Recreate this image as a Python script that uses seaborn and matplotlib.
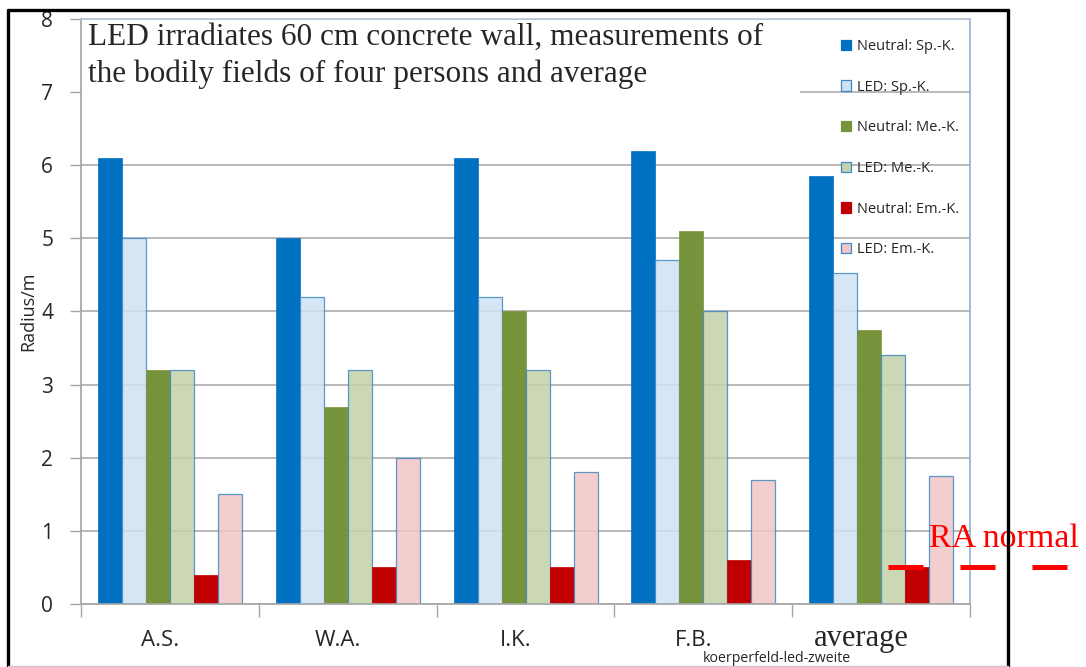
import matplotlib
matplotlib.use("Agg")
import matplotlib.pyplot as plt
import matplotlib.patches as mpatches
import matplotlib.lines as mlines
import matplotlib.transforms as mtrans
import pandas as pd
import seaborn as sns

# Data
persons = ["A.S.", "W.A.", "I.K.", "F.B.", "average"]
series = ["Neutral: Sp.-K.", "LED: Sp.-K.", "Neutral: Me.-K.",
          "LED: Me.-K.", "Neutral: Em.-K.", "LED: Em.-K."]
neutral_sp = [6.1, 5.0, 6.1, 6.2, 5.85]
led_sp = [5.0, 4.2, 4.2, 4.7, 4.52]
neutral_me = [3.2, 2.7, 4.0, 5.1, 3.75]
led_me = [3.2, 3.2, 3.2, 4.0, 3.4]
neutral_em = [0.4, 0.5, 0.5, 0.6, 0.5]
led_em = [1.5, 2.0, 1.8, 1.7, 1.75]
ra_normal = 0.5

title_lines = ["LED irradiates 60 cm concrete wall, measurements of",
               "the bodily fields of four persons and average"]

colors = ["#0070C0", "#CFE2F3", "#77933C", "#C4D1A9", "#C00000", "#F0C6C6"]
light = {1, 3, 5}

values = [neutral_sp, led_sp, neutral_me, led_me, neutral_em, led_em]
rows = []
for s, vals in zip(series, values):
    for p, v in zip(persons, vals):
        rows.append({"person": p, "series": s, "radius": v})
df = pd.DataFrame(rows)

sns.set_theme(style="white")
plt.rcParams["font.family"] = ["Open Sans", "DejaVu Sans"]
serif = ["Liberation Serif", "DejaVu Serif"]

fig = plt.figure(figsize=(10.86, 6.67), dpi=100)
ax = fig.add_axes([0.0746, 0.0945, 0.8186, 0.877])

sns.barplot(data=df, x="person", y="radius", hue="series", palette=colors,
            hue_order=series, order=persons, width=0.81, saturation=1,
            gap=0, ax=ax, legend=False)

for i, cont in enumerate(ax.containers):
    for bar in cont:
        if i in light:
            bar.set_edgecolor("#3F88C8")
            bar.set_linewidth(0.9)
            bar.set_alpha(0.85)
        else:
            bar.set_edgecolor(colors[i])
            bar.set_linewidth(0.5)
        bar.set_zorder(2)

ax.set_xlim(-0.5, 4.5)
ax.set_ylim(0, 8)
ax.set_yticks(range(0, 9))
ax.yaxis.grid(True, color="#A6A6A6", lw=1.1)
ax.set_axisbelow(True)

ax.set_xticks([i - 0.5 for i in range(6)], minor=True)
ax.tick_params(axis="x", which="minor", length=9, color="#A6A6A6", width=1, bottom=True)
ax.tick_params(axis="x", which="major", length=0, labelsize=16, pad=19)
ax.tick_params(axis="y", length=8, color="#A6A6A6", width=1, labelsize=15, left=True, pad=12)
ax.set_xlabel("")
ax.set_ylabel("Radius/m", fontsize=13, labelpad=3)

shift = mtrans.ScaledTranslation(-10 / 100, 0, fig.dpi_scale_trans)
shift_avg = mtrans.ScaledTranslation(-20 / 100, 6 / 100, fig.dpi_scale_trans)
labels = ax.get_xticklabels()
for lab in labels[:-1]:
    lab.set_transform(lab.get_transform() + shift)
labels[-1].set_transform(labels[-1].get_transform() + shift_avg)
labels[-1].set_family(serif)
labels[-1].set_fontsize(22)

for side in ["left", "bottom", "top"]:
    ax.spines[side].set_color("#A6A6A6")
ax.spines["right"].set_color("#95B3D7")
ax.spines["top"].set_color("#B9C6D8")

# white title box hiding grid
ax.add_patch(mpatches.Rectangle((0, 0.868), 0.809, 0.13, transform=ax.transAxes,
                                facecolor="white", edgecolor="none", zorder=1))
for line, ypos in zip(title_lines, [0.9556, 0.8923]):
    ax.text(0.008, ypos, line, transform=ax.transAxes, ha="left", va="baseline",
            fontsize=22.5, family=serif, zorder=3)

handles = [mpatches.Patch(facecolor=c, edgecolor=("#3F88C8" if i in light else c), lw=0.9)
           for i, c in enumerate(colors)]
ax.legend(handles, series, loc="upper left", bbox_to_anchor=(0.848, 0.976),
          frameon=False, fontsize=10.5, handlelength=0.7, handleheight=0.7,
          handletextpad=0.4, labelspacing=1.76, borderaxespad=0)

# RA normal reference line
ax.plot([4.04, 5.045], [ra_normal, ra_normal], color="#FF0000", lw=3.6,
        linestyle=(0, (7, 7.4)), clip_on=False, zorder=5,
        dash_capstyle="butt")
ax.text(4.27, 0.78, "RA normal", color="#FF0000", fontsize=24.5,
        family=serif, va="baseline", ha="left", clip_on=False, zorder=6)

# outer frame
W, H = 1086, 667
frame = [((8, 8), (1, 657)), ((8, 1008), (657, 657)), ((1008, 1008), (657, 0))]
for xs, ys in frame:
    fig.add_artist(mlines.Line2D([x / W for x in xs], [y / H for y in ys],
                                 transform=fig.transFigure, color="black", lw=2.4))
fig.add_artist(mlines.Line2D([8 / W, 1008 / W], [1.5 / H, 1.5 / H],
                             transform=fig.transFigure, color="#C8C8C8", lw=1))
fig.text(777 / W, 8 / H, "koerperfeld-led-zweite", fontsize=10.2,
         ha="center", va="center")

fig.savefig("out.png", dpi=100)
